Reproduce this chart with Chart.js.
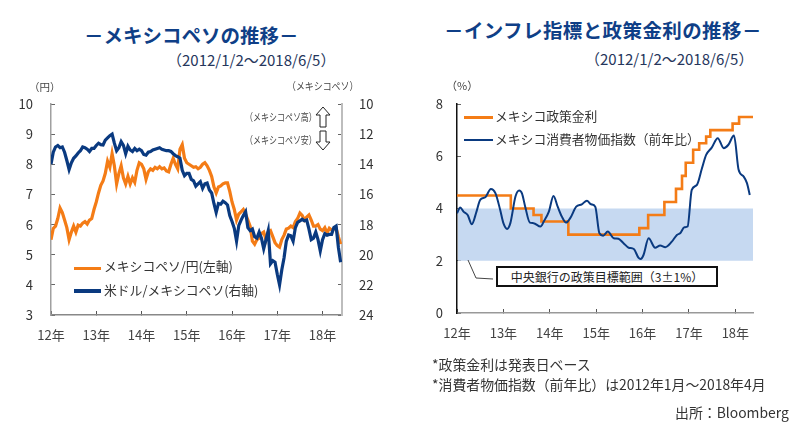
<!DOCTYPE html>
<html lang="ja">
<head>
<meta charset="utf-8">
<title>メキシコペソ</title>
<script src="https://cdn.jsdelivr.net/npm/chart.js@4"></script>
<style>
  html, body { margin: 0; padding: 0; background: #fff; }
  body { position: relative; width: 800px; height: 443px; overflow: hidden; font-family: "Noto Sans CJK JP", sans-serif; color: #333; }
  .wrap { position: absolute; top: 90px; width: 400px; height: 260px; }
  .t { position: absolute; white-space: nowrap; line-height: 1; }
  .title { font-size: 19.5px; font-weight: 700; color: #0f3f87; }
  .sub { font-size: 15px; color: #26365c; }
  .unit { font-size: 10.5px; color: #444; transform-origin: left center; }
  .leg { font-size: 12.8px; color: #333; }
  .swatch { position: absolute; }
  .note { font-size: 13.9px; color: #333; }
  #band-box { position: absolute; left: 496px; top: 266px; width: 218px; height: 17px; border: 2px solid #111; background: #fff; font-size: 12px; line-height: 17px; text-align: center; color: #222; }
  svg { position: absolute; left: 0; top: 0; }
</style>
</head>
<body>

<div class="t title" style="left:84px;top:25px;">－メキシコペソの推移－</div>
<div class="t sub" style="left:167px;top:52px;">（2012/1/2～2018/6/5）</div>
<div class="t title" style="left:444px;top:20px;letter-spacing:.4px;">－インフレ指標と政策金利の推移－</div>
<div class="t sub" style="left:585px;top:51px;">（2012/1/2～2018/6/5）</div>

<div class="wrap" style="left:0;"><canvas id="pesoChart" width="400" height="260"></canvas></div>
<div class="wrap" style="left:400px;"><canvas id="rateChart" width="400" height="260"></canvas></div>

<div class="t unit" style="left:29px;top:82px;">（円）</div>
<div class="t unit" style="left:287px;top:81px;transform:scaleX(.85);">（メキシコペソ）</div>
<div class="t unit" style="left:446px;top:80px;font-size:11px;">（%）</div>

<div class="t unit" style="left:245px;top:112px;transform:scaleX(.76);">（メキシコペソ高）</div>
<div class="t unit" style="left:245px;top:135px;transform:scaleX(.76);">（メキシコペソ安）</div>

<div class="swatch" style="left:74px;top:267px;width:27px;height:3px;background:#f47c16;"></div>
<div class="t leg" style="left:104px;top:260px;">メキシコペソ/円(左軸)</div>
<div class="swatch" style="left:74px;top:289px;width:27px;height:4px;background:#0a3a80;"></div>
<div class="t leg" style="left:104px;top:284px;">米ドル/メキシコペソ(右軸)</div>

<div class="swatch" style="left:464px;top:116px;width:29px;height:3px;background:#f47c16;"></div>
<div class="t leg" style="left:495px;top:110px;">メキシコ政策金利</div>
<div class="swatch" style="left:464px;top:139px;width:29px;height:2px;background:#0a3a80;"></div>
<div class="t leg" style="left:495px;top:133px;">メキシコ消費者物価指数（前年比）</div>

<svg width="800" height="443">
  <path d="M323 107 L330 115 L326 115 L326 127 L320 127 L320 115 L316 115 Z" fill="#fff" stroke="#222" stroke-width="1"/>
  <path d="M323 150 L330 142 L326 142 L326 131 L320 131 L320 142 L316 142 Z" fill="#fff" stroke="#222" stroke-width="1"/>
  <path d="M468 260 L476 278 L493 279" fill="none" stroke="#444" stroke-width="1"/>
</svg>

<div id="band-box">中央銀行の政策目標範囲（3±1%）</div>

<div class="t note" style="left:432px;top:358px;">*政策金利は発表日ベース</div>
<div class="t note" style="left:432px;top:378px;">*消費者物価指数（前年比）は2012年1月～2018年4月</div>
<div class="t note" style="left:675px;top:406px;">出所：Bloomberg</div>

<script>
// 軸ラベル
const yearLabels = ['12年', '13年', '14年', '15年', '16年', '17年', '18年'];

// 左: 0.05年ごとの読み取り値
const sampleStep = 0.05;
const pesoYen = [
  5.5, 5.87, 5.95, 6.2, 6.55, 6.4, 6.15, 5.9, 5.5, 5.75,
  5.95, 5.75, 5.98, 5.95, 6.05, 6.1, 6.02, 6.15, 6.2, 6.5,
  6.75, 7.05, 7.3, 7.45, 7.7, 8.1, 7.9, 8.35, 7.95, 7.35,
  7.7, 7.95, 7.55, 7.35, 7.6, 7.35, 7.55, 7.4, 7.8, 8.05,
  8.0, 7.85, 7.5, 7.75, 7.85, 7.8, 7.9, 7.85, 7.92, 7.85,
  7.88, 7.78, 7.75, 8.0, 8.2, 8.0, 7.85, 8.5, 8.65, 8.2,
  8.05, 8.0, 7.95, 7.9, 7.92, 7.85, 7.9, 8.0, 8.05, 7.95,
  7.8, 7.6, 7.25, 7.05, 7.25, 7.28, 7.35, 7.38, 7.38, 7.1,
  6.75, 6.5, 6.15, 6.35, 6.42, 6.5, 6.35, 6.15, 5.95, 5.45,
  5.35, 5.5, 5.55, 5.7, 5.75, 5.5, 5.75, 5.8, 5.6, 5.4,
  5.3, 5.25, 5.5, 5.65, 5.85, 5.88, 5.95, 5.9, 6.1, 6.2,
  6.38, 6.3, 6.15, 6.25, 6.32, 6.15, 5.95, 5.95, 6.0, 5.85,
  5.8, 5.9, 5.72, 5.88, 5.82, 5.85, 5.88, 5.6, 5.35
];
const usdPeso = [
  14.0, 13.2, 12.85, 12.75, 12.9, 12.85, 13.2, 13.75, 14.35, 13.9,
  13.6, 13.45, 13.25, 13.1, 12.85, 12.9, 13.0, 13.15, 12.95, 12.95,
  12.75, 12.6, 12.7, 12.72, 12.4, 12.25, 12.1, 12.0, 12.6, 13.1,
  12.9, 12.5, 12.75, 13.3, 12.8, 13.05, 13.15, 12.95, 13.1, 13.0,
  13.1, 13.35, 13.4, 13.2, 13.15, 13.05, 13.0, 12.95, 12.9, 13.0,
  13.05, 13.1, 13.1, 13.15, 13.3, 13.42, 13.5, 13.6, 14.4, 14.75,
  14.6, 14.6, 15.0, 15.1, 15.45, 15.3, 15.15, 15.6, 15.3, 15.25,
  15.7, 15.9, 16.6, 17.2, 16.6, 16.65, 16.45, 16.55, 16.7, 17.4,
  17.8, 18.25, 19.1, 18.05, 17.7, 17.4, 17.15, 18.2, 18.4, 18.3,
  18.8, 18.9, 18.5, 18.9, 19.6, 19.0, 18.4, 20.6, 20.4, 20.5,
  21.3, 22.0, 21.0, 20.2, 19.1, 18.7, 18.75, 19.1, 18.2, 17.85,
  17.75, 17.65, 17.75, 17.7, 18.3, 19.0, 18.9, 18.5, 19.0, 19.75,
  19.0, 18.6, 18.7, 18.65, 18.65, 18.2, 18.1, 19.5, 20.5
];

// 右: 政策金利 (変更時点)
const rateYears = [0, 1.16, 1.65, 1.82, 2.4, 3.93, 4.12, 4.47, 4.72, 4.85, 4.93, 5.09, 5.22, 5.37, 5.46, 5.94, 6.08, 6.38];
const rateValues = [4.5, 4.0, 3.75, 3.5, 3.0, 3.25, 3.75, 4.25, 4.75, 5.25, 5.75, 6.25, 6.5, 6.75, 7.0, 7.25, 7.5, 7.5];

// 右: 消費者物価指数
const cpiYears = [0, .07, .14, .23, .32, .42, .5, .61, .73, .83, .93, 1.0, 1.08, 1.15, 1.26, 1.34, 1.4, 1.47, 1.57, 1.65, 1.8, 1.87, 1.98, 2.08, 2.17, 2.26, 2.35, 2.44, 2.57, 2.69, 2.8, 2.89, 2.98, 3.07, 3.15, 3.25, 3.38, 3.48, 3.59, 3.7, 3.81, 3.91, 3.96, 4.02, 4.13, 4.27, 4.38, 4.49, 4.63, 4.74, 4.81, 4.9, 4.97, 5.06, 5.17, 5.28, 5.37, 5.49, 5.62, 5.75, 5.85, 5.97, 6.07, 6.18, 6.25, 6.31];
const cpiValues = [3.82, 4.04, 3.88, 3.75, 3.4, 3.88, 4.33, 4.43, 4.75, 4.58, 3.95, 3.44, 3.22, 3.44, 4.46, 4.69, 4.58, 4.07, 3.46, 3.44, 3.31, 3.5, 3.88, 4.48, 4.07, 3.69, 3.46, 3.63, 4.07, 4.16, 4.3, 4.16, 4.07, 3.05, 2.96, 3.12, 2.86, 2.84, 2.67, 2.5, 2.45, 2.12, 2.07, 2.22, 2.86, 2.5, 2.58, 2.52, 2.73, 2.99, 3.05, 3.28, 3.31, 4.71, 4.9, 5.54, 6.05, 6.33, 6.69, 6.31, 6.44, 6.79, 5.48, 5.22, 4.97, 4.52];

// 目標範囲
const bandYears = [0.02, 6.38];
const bandTop = [4, 4];
const bandBottom = [2, 2];

const ORANGE = '#f47c16';
const NAVY = '#0a3a80';
const TICK_FONT = { family: '"Noto Sans CJK JP", sans-serif', size: 13 };

function pairs(xs, ys) {
  return ys.map(function(y, i) { return { x: xs[i], y: y }; });
}
const sampleYears = pesoYen.map(function(_, i) { return i * sampleStep; });

function xAxis(maxYear, height, color) {
  return {
    type: 'linear',
    min: 0,
    max: maxYear,
    afterFit: function(s) {
      s.height = height;
      s.paddingLeft = 0;
      s.paddingRight = 0;
    },
    border: { color: color, width: 1.5 },
    grid: { drawOnChartArea: false, tickLength: -4, color: '#555' },
    ticks: {
      stepSize: 1,
      includeBounds: false,
      autoSkip: false,
      maxRotation: 0,
      padding: 16,
      color: '#444',
      font: TICK_FONT,
      callback: function(v) { return yearLabels[v]; }
    }
  };
}

function yAxis(opts) {
  return Object.assign({
    afterFit: function(s) {
      s.width = opts.fitWidth;
      s.paddingTop = 0;
      s.paddingBottom = 0;
    },
    grid: { drawOnChartArea: false, tickLength: -4, color: '#666' },
    ticks: { stepSize: opts.step, padding: opts.pad, color: '#333', font: TICK_FONT }
  }, opts.scale);
}

const basePlugins = { legend: { display: false }, tooltip: { enabled: false } };

// 左チャート
new Chart(document.getElementById('pesoChart').getContext('2d'), {
  type: 'line',
  data: {
    datasets: [
      { data: pairs(sampleYears, pesoYen), yAxisID: 'y', order: 2, borderColor: ORANGE, borderWidth: 3.2, pointRadius: 0, tension: 0 },
      { data: pairs(sampleYears, usdPeso), yAxisID: 'y1', order: 1, borderColor: NAVY, borderWidth: 3.2, pointRadius: 0, tension: 0 }
    ]
  },
  options: {
    responsive: false,
    animation: false,
    layout: { padding: { top: 14 } },
    plugins: basePlugins,
    scales: {
      x: xAxis(6.43, 35, '#888'),
      y: yAxis({ fitWidth: 51, step: 1, pad: 22, scale: {
        position: 'left', min: 3, max: 10, border: { color: '#a0a0a0', width: 1.5 }
      } }),
      y1: yAxis({ fitWidth: 58, step: 2, pad: 21, scale: {
        position: 'right', min: 10, max: 24, reverse: true, border: { color: '#bdbdbd', width: 2 }
      } })
    }
  }
});

// 右チャート
new Chart(document.getElementById('rateChart').getContext('2d'), {
  type: 'line',
  data: {
    datasets: [
      { data: pairs(bandYears, bandTop), order: 4, borderWidth: 0, pointRadius: 0, fill: '+1', backgroundColor: '#c6d9f1' },
      { data: pairs(bandYears, bandBottom), order: 3, borderWidth: 0, pointRadius: 0 },
      { data: pairs(rateYears, rateValues), order: 2, stepped: 'before', borderColor: ORANGE, borderWidth: 2.6, pointRadius: 0 },
      { data: pairs(cpiYears, cpiValues), order: 1, borderColor: NAVY, borderWidth: 2, pointRadius: 0, cubicInterpolationMode: 'monotone' }
    ]
  },
  options: {
    responsive: false,
    animation: false,
    layout: { padding: { top: 14, right: 47 } },
    plugins: basePlugins,
    scales: {
      x: xAxis(6.38, 37, '#999'),
      y: yAxis({ fitWidth: 57, step: 2, pad: 18, scale: {
        position: 'left', min: 0, max: 8, border: { color: '#111', width: 1.5 }
      } })
    }
  }
});
</script>
</body>
</html>
